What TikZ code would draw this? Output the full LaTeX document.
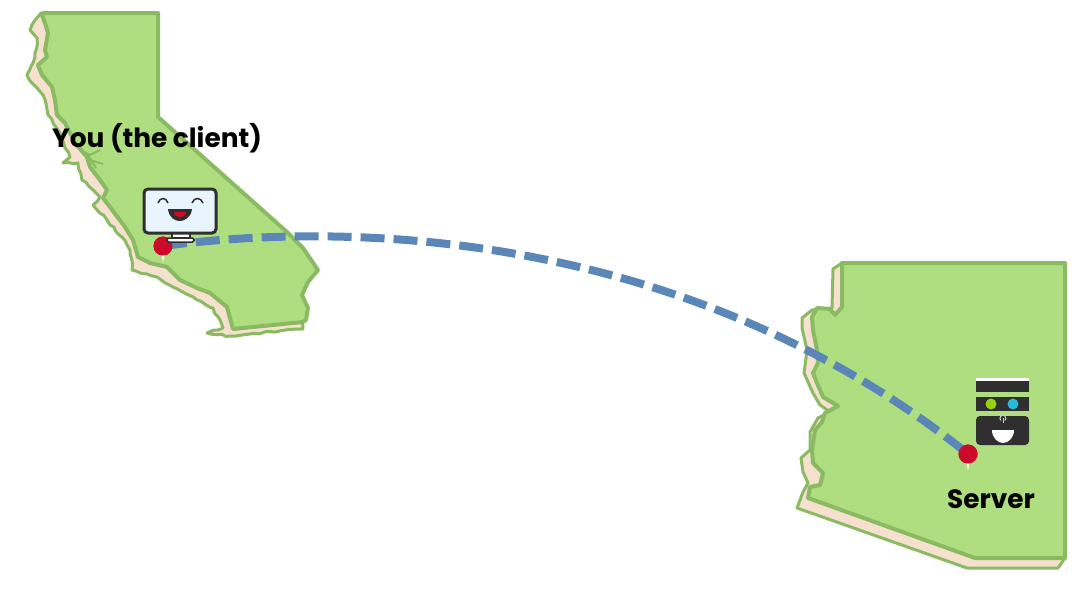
\documentclass[tikz,border=0pt]{standalone}
\usepackage{fontspec}
\usetikzlibrary{decorations.pathmorphing}
\setmainfont{Poppins}
\definecolor{land}{HTML}{AEDE80}
\definecolor{landedge}{HTML}{8ABB63}
\definecolor{coast}{HTML}{F6E0CE}
\definecolor{linkblue}{HTML}{5B87B8}
\definecolor{pinred}{HTML}{CE0A2C}
\definecolor{dark}{HTML}{2F2F2F}
\definecolor{screen}{HTML}{E8F4FE}
\definecolor{ledgreen}{HTML}{97D112}
\definecolor{ledcyan}{HTML}{2BB8D8}
\tikzset{
  shore/.style={fill=coast, draw=landedge, line width=3pt, line join=round},
  ground/.style={fill=land, draw=landedge, line width=4pt, line join=round},
  rough/.style={decorate, decoration={random steps, segment length=5pt, amplitude=1pt}},
  pinhead/.style={circle, fill=pinred, inner sep=0pt, minimum size=19pt},
  pinpoint/.style={fill=white, draw=none},
  linkline/.style={linkblue, line width=8pt, dash pattern=on 24pt off 9pt},
  place/.style={font=\bfseries\fontsize{26.4}{30}\selectfont, text=black, inner sep=0pt},
  panel/.style={fill=dark, draw=none}
}
\pgfmathsetseed{7}
\begin{document}
\begin{tikzpicture}[x=1pt, y=-1pt]
  \useasboundingbox (0,0) rectangle (1090,603);
  \draw[shore, rough] (41,13) -- (35,20) -- (30,30) -- (37,38) -- (35,57) -- (27,75) -- (32,83)
    -- (43,95) -- (48,115) -- (60,133) -- (65,148) -- (70,157) -- (63,163) -- (78,163) -- (82,180)
    -- (95,192) -- (100,197) -- (93,205) -- (107,220) -- (122,237) -- (130,250) -- (132,270)
    -- (157,277) -- (173,287) -- (193,297) -- (213,308) -- (223,328) -- (207,333) -- (230,336)
    -- (303,329) -- (290,250) -- cycle;
  \draw[ground] (43,13) -- (158,13) -- (158,117) -- (287,232) -- (303,248) -- (318,270) -- (308,282)
    -- (302,295) -- (308,308) -- (306,320) -- (303,322) -- (233,329) -- (227,307) -- (210,293)
    -- (197,288) -- (180,280) -- (167,267) -- (150,263) -- (138,257) -- (133,240) -- (125,227)
    -- (110,207) -- (103,198) -- (107,190) -- (100,180) -- (90,167) -- (87,157) -- (75,143)
    -- (65,123) -- (57,115) -- (55,100) -- (52,87) -- (42,75) -- (38,65) -- (47,57) -- (45,50)
    -- (48,33) -- (45,23) -- (42,15) -- cycle;
  \draw[landedge, line width=2pt] (80,150) -- (90,155) -- (100,150) (88,155) -- (96,168) (90,160) -- (103,164);
  \draw[shore] (842,263) -- (833,269) -- (832,308) -- (812,310) -- (802,318) -- (802,328) -- (807,350)
    -- (804,373) -- (813,393) -- (820,405) -- (830,412) -- (818,418) -- (810,432) -- (810,450)
    -- (801,458) -- (803,472) -- (808,483) -- (803,492) -- (797,508) -- (967,568) -- (1058,568)
    -- (1065,558) -- cycle;
  \draw[ground] (842,263) -- (1065,263) -- (1065,558) -- (975,558) -- (808,498) -- (810,487)
    -- (820,485) -- (823,473) -- (813,463) -- (812,450) -- (815,430) -- (822,422) -- (825,413)
    -- (838,406) -- (823,397) -- (817,383) -- (813,373) -- (818,363) -- (817,350) -- (813,330)
    -- (812,317) -- (817,308) -- (830,309) -- (835,315) -- (842,307) -- cycle;
  \node[pinhead] (clientpin) at (163,246) {};
  \node[pinhead] (serverpin) at (968,454) {};
  \draw[linkline] (clientpin.center) .. controls (400,215) and (716,252) .. (serverpin.center);
  \fill[pinpoint] (161.5,254) -- (164.5,254) -- (163,263) -- cycle;
  \fill[pinpoint] (966.5,462) -- (969.5,462) -- (968,471) -- cycle;
  \node[pinhead] at (clientpin) {};
  \node[pinhead] at (serverpin) {};
  \draw[dark, fill=white, line width=1.5pt] (172,233) rectangle (190,238);
  \draw[dark, fill=white, line width=1.5pt, rounded corners=1.5pt] (167,238) rectangle (194,242);
  \draw[dark, fill=screen, line width=3pt, rounded corners=4pt] (144,189) rectangle (216,233);
  \draw[dark, line width=1.5pt] (158,203) .. controls (160,197) and (166,197) .. (168,203);
  \draw[dark, line width=1.5pt] (192,203) .. controls (194,197) and (201,197) .. (203,203);
  \fill[dark] (168,209) -- (192,209) .. controls (191,218) and (184,221) .. (180,221) .. controls (175,221) and (169,218) .. (168,209) -- cycle;
  \fill[pinred] (174,212) -- (186,212) .. controls (185,219) and (175,219) .. (174,212) -- cycle;
  \fill[white] (976,377.5) rectangle (1029,381);
  \fill[panel] (976,381) rectangle (1029,392);
  \fill[panel] (976,397) rectangle (1029,411);
  \fill[panel, rounded corners=4pt] (976,445) -- (976,416) -- (1029,416) -- (1029,445) -- cycle;
  \fill[ledgreen] (991,404) circle (5.5);
  \fill[ledcyan] (1013,404) circle (5.5);
  \draw[white!80!black, line width=1pt] (1001,420.5) arc (130:410:3);
  \draw[white!80!black, line width=1pt] (1003,418) -- (1003,423);
  \fill[white] (992,430) -- (1014,430) .. controls (1014,438) and (1008,443) .. (1003,443) .. controls (998,443) and (992,438) .. (992,430) -- cycle;
  \node[place] (clientlabel) at (157,138) {You (the client)};
  \node[place] (serverlabel) at (991,499) {Server};
\end{tikzpicture}
\end{document}
